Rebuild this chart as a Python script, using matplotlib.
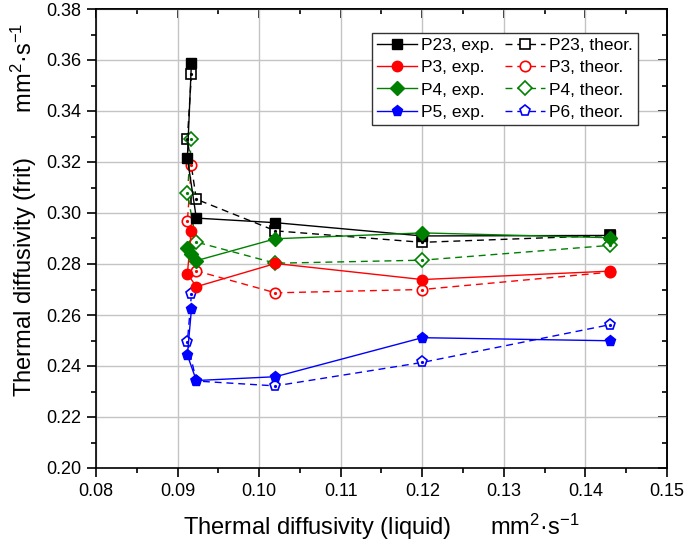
import matplotlib
matplotlib.use("Agg")
import matplotlib.pyplot as plt
from matplotlib.ticker import MultipleLocator, FormatStrFormatter

plt.rcParams['font.family'] = ['Liberation Sans', 'DejaVu Sans']
plt.rcParams['mathtext.fontset'] = 'custom'
plt.rcParams['mathtext.rm'] = 'Liberation Sans'
plt.rcParams['mathtext.it'] = 'Liberation Sans:italic'

# ---- data ----
x_p23 = [0.0917, 0.0912, 0.0923, 0.102, 0.120, 0.143]
p23_exp = [0.3590, 0.3215, 0.2980, 0.2962, 0.2910, 0.2912]
p23_theor = [0.3545, 0.3290, 0.3054, 0.2930, 0.2885, 0.2912]

x_p3 = [0.0917, 0.0912, 0.0923, 0.102, 0.120, 0.143]
p3_exp = [0.2931, 0.2762, 0.2711, 0.2802, 0.2739, 0.2772]
x_p3t = [0.0917, 0.0912, 0.0923, 0.102, 0.120, 0.143]
p3_theor = [0.3188, 0.2968, 0.2773, 0.2687, 0.2700, 0.2768]

x_p4 = [0.0912, 0.0917, 0.0923, 0.102, 0.120, 0.143]
p4_exp = [0.2862, 0.2838, 0.2813, 0.2899, 0.2922, 0.2903]
x_p4t = [0.0917, 0.0912, 0.0923, 0.102, 0.120, 0.143]
p4_theor = [0.3291, 0.3078, 0.2886, 0.2803, 0.2815, 0.2873]

x_p5 = [0.0917, 0.0912, 0.0923, 0.102, 0.120, 0.143]
p5_exp = [0.2623, 0.2443, 0.2343, 0.2358, 0.2511, 0.2499]
x_p6 = [0.0917, 0.0912, 0.0923, 0.102, 0.120, 0.143]
p6_theor = [0.2681, 0.2494, 0.2341, 0.2322, 0.2414, 0.2562]

labels_exp = ["P23, exp.", "P3, exp.", "P4, exp.", "P5, exp."]
labels_theor = ["P23, theor.", "P3, theor.", "P4, theor.", "P6, theor."]
colors = ["black", "#ff0000", "#008000", "#0000ff"]
markers = ["s", "o", "D", "p"]
msizes = [6.5, 7.5, 7.0, 8.0]

exp_sets = [(x_p23, p23_exp), (x_p3, p3_exp), (x_p4, p4_exp), (x_p5, p5_exp)]
theor_sets = [(x_p23, p23_theor), (x_p3t, p3_theor), (x_p4t, p4_theor), (x_p6, p6_theor)]

fig = plt.figure(figsize=(6.85, 5.43), dpi=100)
ax = fig.add_axes([96/685, 1-468/543, (667-96)/685, (468-9)/543])

handles_exp, handles_theor = [], []
for (xs, ys), c, m, ms, lab in zip(theor_sets, colors, markers, msizes, labels_theor):
    h, = ax.plot(xs, ys, color=c, lw=1.0, ls=(0, (5, 3.5)), marker=m, ms=ms,
                 mfc='white', mec=c, mew=1.2, label=lab, zorder=3)
    ax.plot(xs, ys, ls='none', marker='o', ms=1.3, color=c, zorder=3.5)
    handles_theor.append(h)
for (xs, ys), c, m, ms, lab in zip(exp_sets, colors, markers, msizes, labels_exp):
    h, = ax.plot(xs, ys, color=c, lw=1.0, ls='-', marker=m, ms=ms,
                 mfc=c, mec=c, mew=1.0, label=lab, zorder=4)
    handles_exp.append(h)

ax.set_xlim(0.08, 0.15)
ax.set_ylim(0.20, 0.38)
ax.xaxis.set_major_locator(MultipleLocator(0.01))
ax.xaxis.set_minor_locator(MultipleLocator(0.005))
ax.yaxis.set_major_locator(MultipleLocator(0.02))
ax.yaxis.set_minor_locator(MultipleLocator(0.01))
ax.xaxis.set_major_formatter(FormatStrFormatter('%.2f'))
ax.yaxis.set_major_formatter(FormatStrFormatter('%.2f'))
ax.grid(True, which='major', color='#c4c4c4', lw=1.0)
ax.set_axisbelow(True)

ax.tick_params(which='major', direction='out', length=6.5, width=1.2, labelsize=13, pad=4,
               top=False, right=False)
ax.tick_params(which='minor', direction='out', length=3.5, width=1.2, top=False, right=False)
for s in ax.spines.values():
    s.set_linewidth(1.2)

sx = ax.secondary_xaxis('top')
sx.xaxis.set_major_locator(MultipleLocator(0.01))
sx.xaxis.set_minor_locator(MultipleLocator(0.005))
sx.tick_params(which='major', direction='in', length=6.5, width=1.2, labeltop=False)
sx.tick_params(which='minor', direction='in', length=3.5, width=1.2)
sy = ax.secondary_yaxis('right')
sy.yaxis.set_major_locator(MultipleLocator(0.02))
sy.yaxis.set_minor_locator(MultipleLocator(0.01))
sy.tick_params(which='major', direction='in', length=6.5, width=1.2, labelright=False)
sy.tick_params(which='minor', direction='in', length=3.5, width=1.2)
sx.spines['top'].set_linewidth(1.2)
sy.spines['right'].set_linewidth(1.2)

ax.set_xlabel(r"Thermal diffusivity (liquid)      mm$^{2}$·s$^{-1}$", fontsize=17, labelpad=9)
ax.set_ylabel(r"Thermal diffusivity (frit)       mm$^{2}$·s$^{-1}$", fontsize=17)
ax.yaxis.set_label_coords(-0.1, 0.562)

leg = ax.legend(handles_exp + handles_theor, labels_exp + labels_theor, ncol=2,
                loc='upper right', bbox_to_anchor=((638-96)/571, (468-33)/459),
                borderaxespad=0, fontsize=12.5, frameon=True, fancybox=False,
                edgecolor='#333333', framealpha=1, handlelength=2.3, handletextpad=0.25,
                columnspacing=0.6, labelspacing=0.4, borderpad=0.3)
leg.get_frame().set_linewidth(1.0)

fig.savefig("out.png", dpi=100)
